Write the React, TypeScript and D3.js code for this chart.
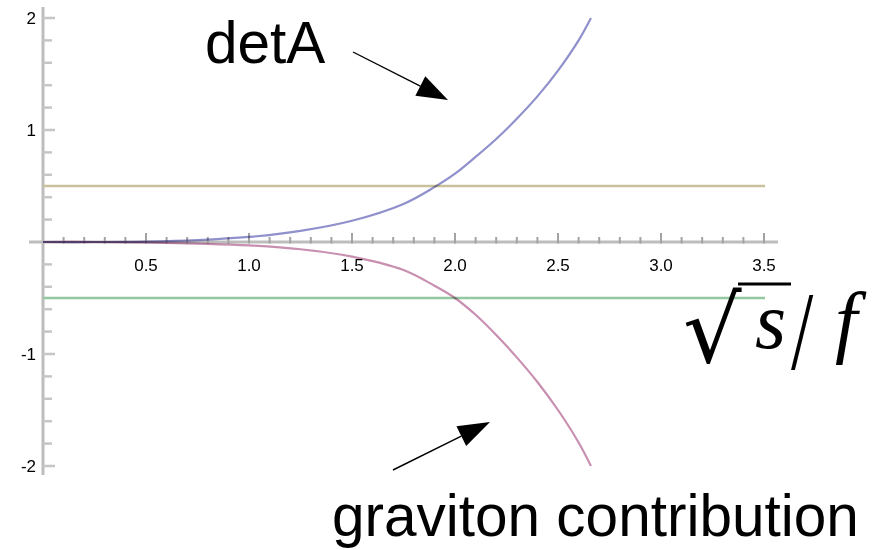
import React from "react";
import * as d3 from "d3";

// sample points along sqrt(s)/f
const sValues = [0, 0.25, 0.5, 0.75, 1.0, 1.25, 1.5, 1.75, 1.9, 2.0, 2.1, 2.2, 2.3, 2.4, 2.5, 2.6, 2.66];
// determinant of the amplitude matrix
const detA = [0, 0, 0.004, 0.017, 0.045, 0.1, 0.19, 0.34, 0.49, 0.61, 0.76, 0.92, 1.1, 1.3, 1.53, 1.8, 2.0];
// graviton exchange part
const graviton = [0, 0, -0.004, -0.014, -0.03, -0.065, -0.13, -0.25, -0.39, -0.5, -0.65, -0.83, -1.03, -1.25, -1.5, -1.79, -2.0];
// horizontal bounds
const upperBound = 0.5;
const lowerBound = -0.5;

const xTickLabels = ["0.5", "1.0", "1.5", "2.0", "2.5", "3.0", "3.5"];
const xTickValues = [0.5, 1.0, 1.5, 2.0, 2.5, 3.0, 3.5];
const yTickLabels = ["2", "1", "-1", "-2"];
const yTickValues = [2, 1, -1, -2];

const W = 877;
const H = 550;

export default function App() {
  const x = d3.scaleLinear().domain([0, 3.5]).range([43, 764]);
  const y = d3.scaleLinear().domain([-2, 2]).range([466, 18]);
  const x0 = x(0);
  const y0 = y(0);

  const line = d3
    .line<[number, number]>()
    .x((d) => x(d[0]))
    .y((d) => y(d[1]))
    .curve(d3.curveCatmullRom.alpha(0.5));

  const detPts = sValues.map((s, i) => [s, detA[i]] as [number, number]);
  const gravPts = sValues.map((s, i) => [s, graviton[i]] as [number, number]);

  const xMinor = d3.range(1, 36).map((k) => ({ v: k / 10, major: k % 5 === 0 }));
  const yMinor = d3
    .range(-10, 11)
    .filter((k) => k !== 0)
    .map((k) => ({ v: k / 5, major: k % 5 === 0 }));

  // arrow helper: shaft + filled head
  const arrow = (sx: number, sy: number, tx: number, ty: number, len: number, hw: number) => {
    const dx = tx - sx;
    const dy = ty - sy;
    const L = Math.hypot(dx, dy);
    const ux = dx / L;
    const uy = dy / L;
    const bx = tx - ux * len;
    const by = ty - uy * len;
    const px = -uy;
    const py = ux;
    return (
      <g>
        <line x1={sx} y1={sy} x2={bx} y2={by} stroke="#000" strokeWidth={1.4} />
        <polygon
          points={`${tx},${ty} ${bx + px * hw},${by + py * hw} ${bx - px * hw},${by - py * hw}`}
          fill="#000"
        />
      </g>
    );
  };

  return (
    <svg
      width={W}
      height={H}
      viewBox={`0 0 ${W} ${H}`}
      style={{ position: "absolute", left: 0, top: 0, background: "#fff" }}
    >
      <rect width={W} height={H} fill="#fff" />

      {/* axes */}
      <line x1={x0 - 14} x2={x(3.5) + 14} y1={y0} y2={y0} stroke="#bdbdbd" strokeWidth={3} />
      <line x1={x0} x2={x0} y1={y(2) - 11} y2={y(-2) + 9} stroke="#bdbdbd" strokeWidth={3} />

      {xMinor.map((t, i) => (
        <line
          key={`xt${i}`}
          x1={x(t.v)}
          x2={x(t.v)}
          y1={y0 - (t.major ? 9 : 5)}
          y2={y0 + 1.5}
          stroke="#a3a3a3"
          strokeWidth={2}
        />
      ))}
      {yMinor.map((t, i) => (
        <line
          key={`yt${i}`}
          x1={x0}
          x2={x0 + (t.major ? 12 : 9)}
          y1={y(t.v)}
          y2={y(t.v)}
          stroke="#c6c6c6"
          strokeWidth={2.5}
        />
      ))}

      {xTickValues.map((v, i) => (
        <text
          key={`xl${i}`}
          x={x(v)}
          y={y0 + 29}
          textAnchor="middle"
          fontFamily="Liberation Sans"
          fontSize={17}
          fill="#000"
        >
          {xTickLabels[i]}
        </text>
      ))}
      {yTickValues.map((v, i) => (
        <text
          key={`yl${i}`}
          x={x0 - 7}
          y={y(v) + 6}
          textAnchor="end"
          fontFamily="Liberation Sans"
          fontSize={17}
          fill="#000"
        >
          {yTickLabels[i]}
        </text>
      ))}

      {/* bounds */}
      <line x1={x0} x2={x(3.5) + 1} y1={y(upperBound)} y2={y(upperBound)} stroke="#c9c19b" strokeWidth={2.6} />
      <line x1={x0} x2={x(3.5) + 1} y1={y(lowerBound)} y2={y(lowerBound)} stroke="#94c8a0" strokeWidth={2.6} />

      {/* curves */}
      <path d={line(detPts) ?? ""} fill="none" stroke="#9090cc" strokeWidth={2.2} style={{ mixBlendMode: "multiply" }} />
      <path d={line(gravPts) ?? ""} fill="none" stroke="#c98fb1" strokeWidth={2.2} style={{ mixBlendMode: "multiply" }} />

      {/* annotations */}
      <text x={205} y={63} fontFamily="Liberation Sans" fontSize={58.5} fill="#000">
        detA
      </text>
      {arrow(353, 52, 448, 100, 31, 11)}

      <text x={332} y={536} fontFamily="Liberation Sans" fontSize={58.5} fill="#000">
        graviton contribution
      </text>
      {arrow(393, 470, 490, 422, 32, 11)}

      {/* axis label sqrt(s)/f */}
      <g fill="#000">
        <text x={683} y={362} fontFamily="DejaVu Serif" fontSize={92}>
          √
        </text>
        <line x1={738} x2={791} y1={284} y2={284} stroke="#000" strokeWidth={3} />
        <text x={755} y={348} fontFamily="Liberation Serif" fontStyle="italic" fontSize={80}>
          s
        </text>
        <text transform="translate(791,369) scale(1,1.4)" x={0} y={0} fontFamily="Liberation Serif" fontSize={80}>
          /
        </text>
        <text x={835} y={348} fontFamily="Liberation Serif" fontStyle="italic" fontSize={80}>
          f
        </text>
      </g>
    </svg>
  );
}
